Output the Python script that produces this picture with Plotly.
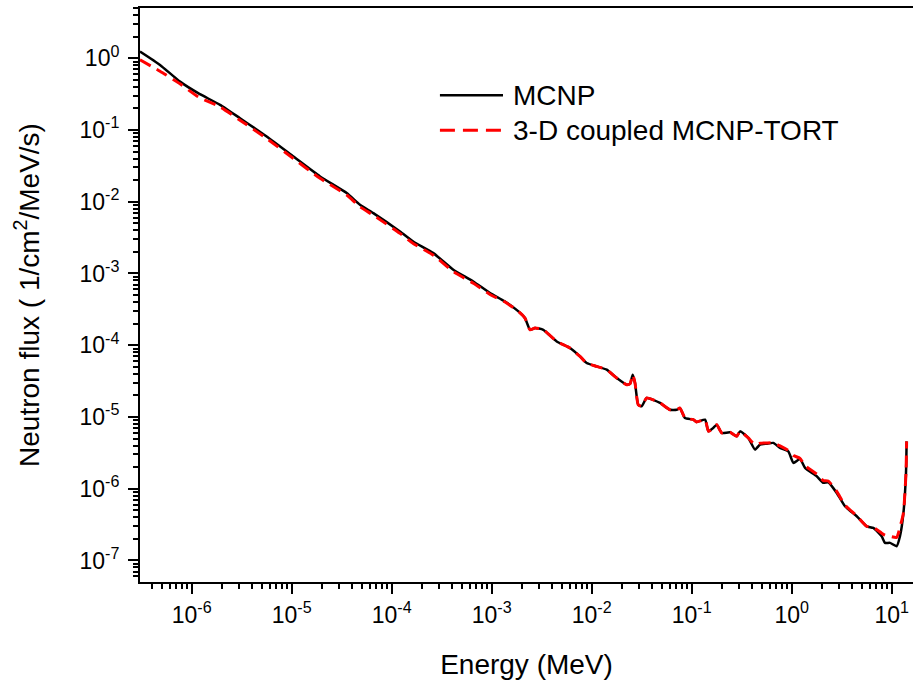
import plotly.graph_objects as go

# ---- data ----
energy_mev = [
    3.04e-7, 4.82e-7, 7.64e-7, 1.16e-6, 1.92e-6, 3.04e-6, 5.62e-6, 1.04e-5, 1.92e-5, 3.55e-5,
    4.82e-5, 6.55e-5, 1.21e-4, 1.64e-4, 2.61e-4, 4.13e-4, 6.55e-4, 9.62e-4, 1.36e-3, 1.85e-3,
    2.15e-3, 2.42e-3, 2.71e-3, 3.28e-3, 4.47e-3, 6.07e-3, 7.64e-3, 8.91e-3, 1.12e-2, 1.41e-2,
    1.78e-2, 2.24e-2, 2.42e-2, 2.57e-2, 2.71e-2, 2.92e-2, 3.16e-2, 3.55e-2, 4.82e-2, 6.07e-2,
    7.08e-2, 7.64e-2, 8.57e-2, 0.104, 0.112, 0.136, 0.147, 0.164, 0.178, 0.200,
    0.242, 0.282, 0.304, 0.368, 0.430, 0.482, 0.562, 0.655, 0.764, 0.925,
    1.04, 1.21, 1.36, 1.78, 2.07, 2.32, 2.82, 3.41, 4.47, 5.62,
    6.55, 7.94, 8.57, 9.62, 11.2, 12.1, 13.1, 13.9, 14.1,
]

flux_mcnp = [
    1.24, 0.807, 0.472, 0.326, 0.224, 0.146, 0.0809, 0.0426, 0.0225, 0.0132,
    9.06e-3, 6.94e-3, 3.85e-3, 2.79e-3, 1.92e-3, 1.13e-3, 7.74e-4, 5.33e-4, 4.07e-4, 2.96e-4,
    2.39e-4, 1.64e-4, 1.74e-4, 1.64e-4, 1.13e-4, 9.14e-5, 6.98e-5, 5.65e-5, 5.07e-5, 4.56e-5,
    3.49e-5, 2.82e-5, 2.91e-5, 3.88e-5, 2.98e-5, 1.48e-5, 1.41e-5, 1.84e-5, 1.57e-5, 1.26e-5,
    1.26e-5, 1.33e-5, 9.68e-6, 9.17e-6, 8.51e-6, 9.17e-6, 6.30e-6, 7.03e-6, 7.82e-6, 5.98e-6,
    6.11e-6, 5.37e-6, 6.30e-6, 5.10e-6, 3.51e-6, 4.12e-6, 4.25e-6, 4.35e-6, 3.70e-6, 3.32e-6,
    2.29e-6, 2.60e-6, 1.95e-6, 1.49e-6, 1.21e-6, 1.23e-6, 8.74e-7, 5.69e-7, 4.13e-7, 2.99e-7,
    2.84e-7, 2.17e-7, 1.76e-7, 1.76e-7, 1.58e-7, 2.17e-7, 4.60e-7, 1.66e-6, 4.57e-6,
]

flux_tort = [
    0.95, 0.66, 0.44, 0.29, 0.21, 0.137, 0.076, 0.040, 0.0212, 0.0124,
    8.5e-3, 6.5e-3, 3.62e-3, 2.62e-3, 1.80e-3, 1.06e-3, 7.3e-4, 5.1e-4, 4.0e-4, 2.96e-4,
    2.39e-4, 1.64e-4, 1.74e-4, 1.64e-4, 1.13e-4, 9.14e-5, 6.98e-5, 5.65e-5, 5.07e-5, 4.56e-5,
    3.49e-5, 2.82e-5, 2.91e-5, 3.88e-5, 2.98e-5, 1.48e-5, 1.41e-5, 1.84e-5, 1.57e-5, 1.26e-5,
    1.26e-5, 1.33e-5, 9.68e-6, 9.17e-6, 8.51e-6, 9.17e-6, 6.30e-6, 7.03e-6, 7.82e-6, 5.98e-6,
    6.11e-6, 5.37e-6, 6.30e-6, 5.10e-6, 4.1e-6, 4.3e-6, 4.35e-6, 4.35e-6, 3.95e-6, 3.4e-6,
    2.9e-6, 2.65e-6, 2.1e-6, 1.6e-6, 1.3e-6, 1.28e-6, 9.2e-7, 5.9e-7, 4.2e-7, 3.0e-7,
    2.9e-7, 2.4e-7, 2.25e-7, 2.17e-7, 2.1e-7, 2.9e-7, 4.6e-7, 1.66e-6, 4.57e-6,
]

series_names = ["MCNP", "3-D coupled MCNP-TORT"]

x_tick_vals = [1e-6, 1e-5, 1e-4, 1e-3, 1e-2, 1e-1, 1e0, 1e1]
x_tick_text = ["10<sup>-6</sup>", "10<sup>-5</sup>", "10<sup>-4</sup>", "10<sup>-3</sup>",
               "10<sup>-2</sup>", "10<sup>-1</sup>", "10<sup>0</sup>", "10<sup>1</sup>"]
y_tick_vals = [1e-7, 1e-6, 1e-5, 1e-4, 1e-3, 1e-2, 1e-1, 1e0]
y_tick_text = ["10<sup>-7</sup>", "10<sup>-6</sup>", "10<sup>-5</sup>", "10<sup>-4</sup>",
               "10<sup>-3</sup>", "10<sup>-2</sup>", "10<sup>-1</sup>", "10<sup>0</sup>"]

x_minor = [d * 10.0 ** k for k in range(-7, 2) for d in range(2, 10)]
y_minor = [d * 10.0 ** k for k in range(-8, 1) for d in range(2, 10)]

FONT = "Arial, Liberation Sans, sans-serif"

fig = go.Figure()
fig.add_trace(go.Scatter(
    x=energy_mev, y=flux_mcnp, mode="lines", name=series_names[0], showlegend=False,
    line=dict(color="black", width=2.5, shape="spline", smoothing=0.5),
))
fig.add_trace(go.Scatter(
    x=energy_mev, y=flux_tort, mode="lines", name=series_names[1], showlegend=False,
    line=dict(color="#ff0000", width=3, dash="12px,7px", shape="spline", smoothing=0.5),
))

axis_common = dict(
    type="log", showgrid=False, zeroline=False, showline=True, linecolor="black", linewidth=2,
    ticks="outside", ticklen=10, tickwidth=2, tickcolor="black", tickmode="array",
    tickfont=dict(family=FONT, size=23, color="black"), automargin=False,
)

fig.update_xaxes(
    **axis_common, range=[-6.517, 1.213], mirror=True, ticklabelstandoff=1,
    tickvals=x_tick_vals, ticktext=x_tick_text,
    minor=dict(ticks="outside", ticklen=5, tickwidth=2, tickcolor="black",
               tickmode="array", tickvals=x_minor, showgrid=False),
    title=dict(text="Energy (MeV)", font=dict(family=FONT, size=28, color="black"), standoff=28),
)
fig.update_yaxes(
    **axis_common, range=[-7.30, 0.70], mirror=False, ticklabelstandoff=4,
    tickvals=y_tick_vals, ticktext=y_tick_text,
    minor=dict(ticks="outside", ticklen=5, tickwidth=2, tickcolor="black",
               tickmode="array", tickvals=y_minor, showgrid=False),
    title=dict(text="Neutron flux ( 1/cm<sup>2</sup>/MeV/s)",
               font=dict(family=FONT, size=28, color="black"), standoff=32),
)

# legend drawn as sample lines + labels
legend_y = [0.848, 0.787]
fig.add_shape(type="line", xref="paper", yref="paper", x0=0.388, x1=0.4696,
              y0=legend_y[0], y1=legend_y[0], line=dict(color="black", width=2.5))
fig.add_shape(type="line", xref="paper", yref="paper", x0=0.388, x1=0.4696,
              y0=legend_y[1], y1=legend_y[1], line=dict(color="#ff0000", width=3, dash="15px,8px"))
for name, ly in zip(series_names, legend_y):
    fig.add_annotation(xref="paper", yref="paper", x=0.4800, y=ly, text=name, showarrow=False,
                       xanchor="left", yanchor="middle",
                       font=dict(family=FONT, size=28, color="black"))

fig.update_layout(
    width=913, height=693,
    margin=dict(l=140, r=0, t=8, b=111),
    paper_bgcolor="white", plot_bgcolor="white",
    font=dict(family=FONT, color="black"),
)

fig.write_html("out.html", config={"displayModeBar": False},
               post_script="document.body.style.margin='0';")
